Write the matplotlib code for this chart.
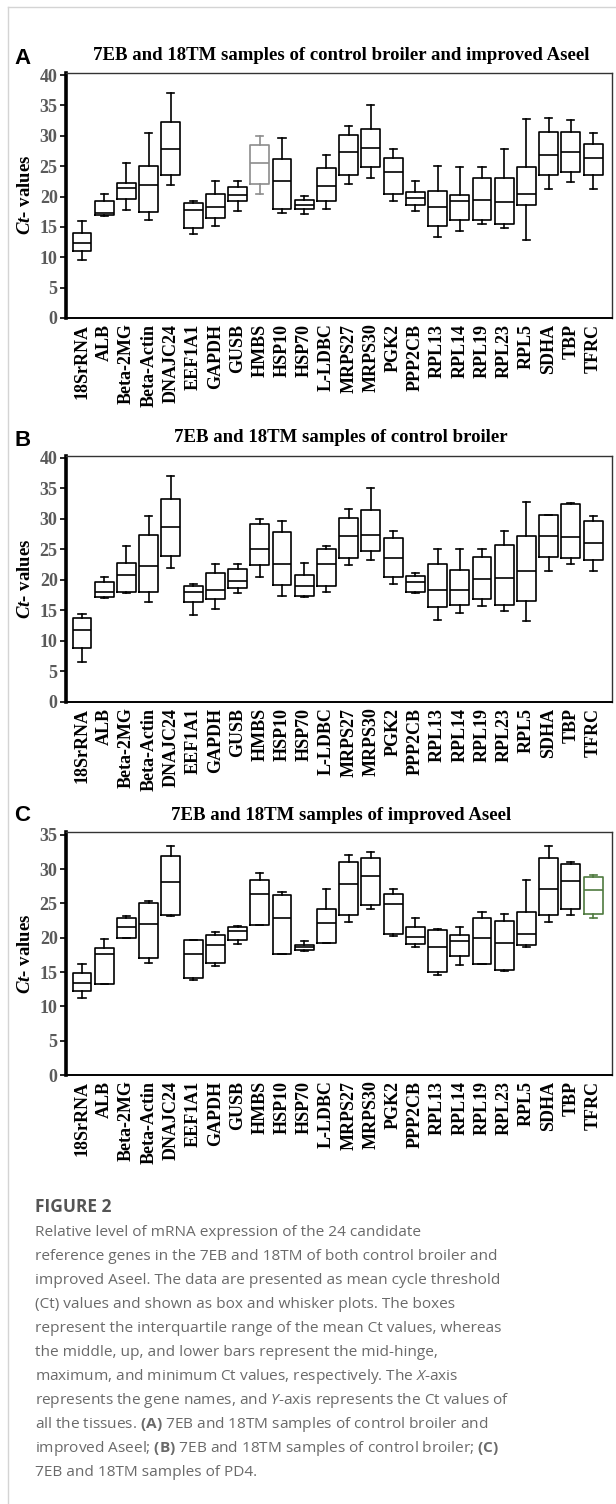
import matplotlib
matplotlib.use("Agg")
import matplotlib.pyplot as plt
from matplotlib.lines import Line2D

# ==========================================================
# Data
# ==========================================================

GENES = ["18SrRNA", "ALB", "Beta-2MG", "Beta-Actin", "DNAJC24", "EEF1A1",
         "GAPDH", "GUSB", "HMBS", "HSP10", "HSP70", "L-LDBC", "MRPS27",
         "MRPS30", "PGK2", "PPP2CB", "RPL13", "RPL14", "RPL19", "RPL23",
         "RPL5", "SDHA", "TBP", "TFRC"]

# panel A : control broiler and improved Aseel
A_MIN = [9.5, 16.8, 17.8, 16.1, 21.9, 13.8, 15.1, 17.6, 20.4, 17.3, 17.2, 17.9,
         22.0, 23.1, 19.2, 17.6, 13.4, 14.4, 15.5, 14.8, 12.9, 21.3, 22.4, 21.3]
A_Q1 = [11.1, 17.0, 19.6, 17.4, 23.5, 14.9, 16.5, 19.2, 22.1, 18.0, 17.9, 19.2,
        23.5, 24.8, 20.4, 18.6, 15.1, 16.2, 16.2, 15.4, 18.6, 23.6, 24.0, 23.5]
A_MED = [12.4, 17.3, 21.4, 21.9, 27.8, 17.8, 18.2, 20.2, 25.6, 22.5, 18.6, 21.8,
         27.4, 28.0, 24.1, 19.8, 18.3, 19.2, 19.5, 19.1, 20.4, 26.8, 27.4, 26.4]
A_Q3 = [14.0, 19.2, 22.3, 25.0, 32.2, 18.9, 20.4, 21.5, 28.5, 26.2, 19.4, 24.7,
        30.2, 31.1, 26.4, 20.8, 20.9, 20.2, 23.0, 23.1, 24.8, 30.6, 30.6, 28.7]
A_MAX = [15.9, 20.4, 25.6, 30.4, 37.1, 19.3, 22.5, 22.5, 30.0, 29.7, 20.1, 26.8,
         31.6, 35.1, 27.9, 22.5, 25.0, 24.8, 24.8, 27.9, 32.8, 32.9, 32.6, 30.4]

# panel B : control broiler
B_MIN = [6.5, 17.0, 17.9, 16.4, 22.0, 14.2, 15.3, 17.8, 20.5, 17.4, 17.25, 18.0,
         22.4, 23.2, 19.3, 17.8, 13.5, 14.5, 15.7, 14.9, 13.2, 21.5, 22.6, 21.5]
B_Q1 = [8.9, 17.2, 18.0, 18.0, 23.9, 16.4, 16.8, 18.7, 22.4, 19.1, 17.4, 18.95,
        23.6, 24.8, 20.5, 18.0, 15.5, 15.9, 16.8, 15.9, 16.6, 23.8, 23.6, 23.2]
B_MED = [11.8, 18.1, 20.8, 22.2, 28.6, 18.0, 18.4, 19.9, 25.1, 22.6, 19.0, 22.6,
         27.2, 27.4, 23.6, 19.7, 18.4, 18.4, 20.1, 20.3, 21.5, 27.2, 27.0, 26.1]
B_Q3 = [13.8, 19.7, 22.8, 27.4, 33.3, 18.95, 21.1, 21.8, 29.1, 27.8, 20.8, 25.1,
        30.1, 31.5, 26.8, 20.7, 22.6, 21.6, 23.8, 25.7, 27.2, 30.7, 32.4, 29.7]
B_MAX = [14.4, 20.5, 25.6, 30.5, 37.0, 19.3, 22.6, 22.6, 30.0, 29.7, 22.7, 25.5,
         31.6, 35.1, 28.0, 21.1, 25.1, 25.0, 25.0, 28.0, 32.8, 30.7, 32.6, 30.5]

# panel C : improved Aseel
C_MIN = [11.2, 13.2, 19.9, 16.3, 23.2, 13.9, 15.9, 19.1, 21.8, 17.7, 18.0, 19.3,
         22.3, 24.2, 20.2, 18.7, 14.5, 16.0, 16.1, 15.2, 18.7, 22.3, 23.3, 22.8]
C_Q1 = [12.2, 13.2, 19.9, 17.0, 23.3, 14.2, 16.3, 19.6, 21.9, 17.7, 18.2, 19.3,
        23.3, 24.7, 20.6, 19.1, 15.0, 17.3, 16.1, 15.3, 19.0, 23.3, 24.2, 23.5]
C_MED = [13.4, 17.6, 21.6, 22.0, 28.1, 17.6, 19.0, 21.0, 26.4, 22.8, 18.6, 22.1,
         27.8, 29.0, 24.9, 20.1, 18.7, 19.5, 19.9, 19.2, 20.6, 27.1, 28.3, 26.9]
C_Q3 = [14.9, 18.5, 22.8, 25.0, 31.9, 19.6, 20.4, 21.6, 28.4, 26.2, 19.0, 24.2,
        31.0, 31.6, 26.4, 21.6, 21.1, 20.4, 22.8, 22.5, 23.8, 31.6, 30.7, 28.9]
C_MAX = [16.1, 19.8, 23.1, 25.4, 33.3, 19.7, 20.8, 21.7, 29.5, 26.6, 19.5, 27.1,
         32.0, 32.5, 27.1, 22.8, 21.2, 21.6, 23.8, 23.4, 28.4, 33.4, 31.0, 29.1]

TITLE_A = "7EB and 18TM samples of control broiler and improved Aseel"
TITLE_B = "7EB and 18TM samples of control broiler"
TITLE_C = "7EB and 18TM samples of improved Aseel"

CAPTION_HEAD = "FIGURE 2"
CAPTION_LINES = [
    "Relative level of mRNA expression of the 24 candidate",
    "reference genes in the 7EB and 18TM of both control broiler and",
    "improved Aseel. The data are presented as mean cycle threshold",
    "(Ct) values and shown as box and whisker plots. The boxes",
    "represent the interquartile range of the mean Ct values, whereas",
    "the middle, up, and lower bars represent the mid-hinge,",
    r"maximum, and minimum Ct values, respectively. The $\mathsf{X}$-axis",
    r"represents the gene names, and $\mathsf{Y}$-axis represents the Ct values of",
    r"all the tissues. $\mathbf{(A)}$ 7EB and 18TM samples of control broiler and",
    r"improved Aseel; $\mathbf{(B)}$ 7EB and 18TM samples of control broiler; $\mathbf{(C)}$",
    "7EB and 18TM samples of PD4.",
]

# ==========================================================
# Style
# ==========================================================

W, H = 616, 1504
SERIF = "Liberation Serif"

plt.rcParams["mathtext.fontset"] = "custom"
plt.rcParams["mathtext.it"] = "Liberation Serif:italic:bold"
plt.rcParams["mathtext.sf"] = "Open Sans:italic"
plt.rcParams["mathtext.bf"] = "Open Sans:bold"


def fx(px):
    return px / W


def fy(py):
    return 1 - py / H


def draw_panel(fig, top, bottom, ymax, yticks, stats_cols, title, label,
               title_y, label_y, special=None):
    left, right = 66, 612
    ax = fig.add_axes([fx(left), fy(bottom), fx(right - left),
                       (bottom - top) / H])
    mins, q1s, meds, q3s, maxs = stats_cols
    stats = []
    for g, lo, a, m, b, hi in zip(GENES, mins, q1s, meds, q3s, maxs):
        stats.append({"label": g, "whislo": lo, "q1": a, "med": m,
                      "q3": b, "whishi": hi})
    lw = 1.2
    parts = ax.bxp(stats, positions=range(1, len(GENES) + 1), widths=0.85,
                   capwidths=0.32, showfliers=False, patch_artist=False,
                   boxprops=dict(color="black", linewidth=lw),
                   medianprops=dict(color="black", linewidth=lw),
                   whiskerprops=dict(color="black", linewidth=lw),
                   capprops=dict(color="black", linewidth=lw))
    if special:
        idx, col = special
        for key in ("boxes", "medians"):
            parts[key][idx].set_color(col)
        for key in ("whiskers", "caps"):
            parts[key][2 * idx].set_color(col)
            parts[key][2 * idx + 1].set_color(col)

    ax.set_xlim(0.28, 24.85)
    ax.set_ylim(0, ymax)
    ax.set_yticks(yticks)
    ax.set_xticks(range(1, len(GENES) + 1))
    ax.set_xticklabels(GENES, rotation=90, fontfamily=SERIF,
                       fontweight="bold", fontsize=13)
    ax.tick_params(axis="x", length=0, pad=4)
    ax.tick_params(axis="y", length=4, width=1.2, pad=2, labelsize=13,
                   labelcolor="#5a5a5a")
    for t in ax.get_yticklabels():
        t.set_fontfamily(SERIF)
        t.set_fontweight("bold")
    ax.spines["left"].set_linewidth(2.6)
    ax.spines["bottom"].set_linewidth(1.4)
    ax.spines["top"].set_linewidth(1.0)
    ax.spines["right"].set_linewidth(1.0)
    ax.spines["top"].set_color("#333333")
    ax.spines["right"].set_color("#333333")

    fig.text(fx(25), fy((top + bottom) / 2), r"$\mathit{Ct}$- values",
             rotation=90, ha="center", va="center", fontfamily=SERIF,
             fontweight="bold", fontsize=13.5)
    fig.text(fx((left + right) / 2 + 2), fy(title_y), title, ha="center",
             va="center", fontfamily=SERIF, fontweight="bold", fontsize=13.5)
    fig.text(fx(14), fy(label_y), label, ha="left", va="center",
             fontfamily="Liberation Sans", fontweight="bold", fontsize=16)
    return ax


# ==========================================================
# Figure
# ==========================================================

fig = plt.figure(figsize=(W / 100, H / 100), dpi=100)

draw_panel(fig, 72.7, 318, 40.4, range(0, 41, 5),
           (A_MIN, A_Q1, A_MED, A_Q3, A_MAX), TITLE_A, "A", 55, 59,
           special=(8, "#8c8c8c"))
draw_panel(fig, 456, 702, 40.3, range(0, 41, 5),
           (B_MIN, B_Q1, B_MED, B_Q3, B_MAX), TITLE_B, "B", 437, 440)
draw_panel(fig, 832, 1075, 35.4, range(0, 36, 5),
           (C_MIN, C_Q1, C_MED, C_Q3, C_MAX), TITLE_C, "C", 816, 816,
           special=(23, "#4f7a3f"))

# page frame lines
fig.add_artist(Line2D([fx(8), 1], [fy(7), fy(7)], color="#d4d4d4", lw=1.0))
fig.add_artist(Line2D([fx(8), fx(8)], [fy(7), 0], color="#d4d4d4", lw=1.0))

# caption
fig.text(fx(35), fy(1207), CAPTION_HEAD, ha="left", va="center",
         fontfamily="Open Sans", fontweight="bold", fontsize=12.5,
         color="#555555")
for i, line in enumerate(CAPTION_LINES):
    fig.text(fx(35), fy(1232 + 24 * i), line, ha="left", va="center",
             fontfamily="Open Sans", fontsize=11.1, color="#6a6a6a")

fig.savefig("out.png", dpi=100)
